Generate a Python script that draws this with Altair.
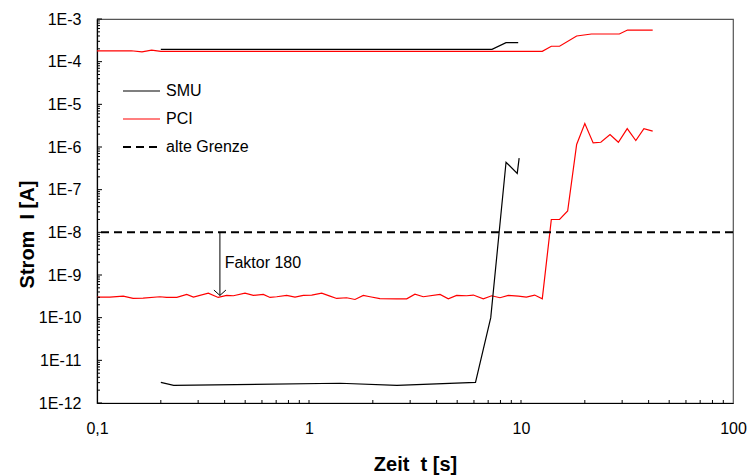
import altair as alt
import pandas as pd

# ---------------- data ----------------
smu_hi_t = [0.2, 7.3, 8.5, 9.7]
smu_hi_v = [1.95e-4, 1.95e-4, 2.8e-4, 2.8e-4]

smu_lo_t = [0.2, 0.23, 1.4, 2.6, 6.1, 7.2, 8.5, 9.6, 9.8]
smu_lo_v = [3.05e-12, 2.6e-12, 2.9e-12, 2.6e-12, 3.05e-12, 1.0e-10, 4.4e-7, 2.4e-7, 5.5e-7]

pci_hi_t = [0.1, 0.145, 0.163, 0.181, 0.2, 12.6, 13.9, 15.2, 18.3, 21.5, 29.1, 31.8, 41.8]
pci_hi_v = [1.8e-4, 1.8e-4, 1.7e-4, 1.87e-4, 1.75e-4, 1.75e-4, 2.3e-4, 2.3e-4,
            4.0e-4, 4.45e-4, 4.45e-4, 5.5e-4, 5.5e-4]

pci_lo_t = [0.1, 0.115, 0.133, 0.148, 0.165, 0.198, 0.213, 0.238, 0.265, 0.285,
            0.335, 0.373, 0.409, 0.44, 0.499, 0.546, 0.609, 0.655, 0.704, 0.785,
            0.859, 0.94, 1.03, 1.148, 1.256, 1.351, 1.506, 1.648, 1.803, 1.94,
            2.16, 2.59, 2.89, 3.16, 3.46, 4.15, 4.54, 4.97, 5.54, 5.96,
            6.64, 7.27, 7.96, 8.71, 9.72, 10.6, 11.6, 12.6, 13.9, 15.2,
            16.6, 18.3, 20.0, 21.9, 23.8, 26.3, 28.8, 31.7, 34.8, 38.0, 41.8]
pci_lo_v = [3.03e-10, 3.03e-10, 3.2e-10, 2.82e-10, 2.88e-10, 3.09e-10, 2.98e-10, 2.98e-10, 3.5e-10, 3.03e-10,
            3.76e-10, 2.98e-10, 3.32e-10, 3.26e-10, 3.76e-10, 3.32e-10, 3.5e-10, 2.98e-10, 3.09e-10, 3.32e-10,
            3.03e-10, 3.32e-10, 3.39e-10, 3.76e-10, 3.2e-10, 2.82e-10, 2.93e-10, 2.67e-10, 3.32e-10, 3.09e-10,
            2.8e-10, 2.77e-10, 2.77e-10, 3.56e-10, 3.09e-10, 3.5e-10, 2.77e-10, 3.32e-10, 3.26e-10, 3.39e-10,
            2.77e-10, 3.26e-10, 2.93e-10, 3.32e-10, 3.2e-10, 3.03e-10, 3.39e-10, 2.77e-10, 2.0e-8, 2.0e-8,
            3.16e-8, 1.15e-6, 3.56e-6, 1.25e-6, 1.29e-6, 1.96e-6, 1.29e-6, 2.7e-6, 1.42e-6, 2.7e-6, 2.35e-6]

limit_value = [1e-8]
legend_labels = ["SMU", "PCI", "alte Grenze"]

arrow_t = [0.38]
arrow_from = [1e-8]
arrow_to = [3.32e-10]
note_t = [0.4]
note_v = [1.87e-9]
note_text = ["Faktor 180"]

x_major = [0.1, 1, 10, 100]
x_minor = [m * d for d in [0.1, 1, 10] for m in range(2, 10)] + [1, 10]
y_major = [10.0 ** e for e in range(-12, -2)]
y_minor = [m * 10.0 ** e for e in range(-12, -3) for m in range(2, 10)]

# ---------------- layout ----------------
W, H = 636, 384
FONT = "Liberation Sans"

xscale = alt.Scale(type="log", domain=[0.1, 100], nice=False)
yscale = alt.Scale(type="log", domain=[1e-12, 1e-3], nice=False)

xaxis = alt.Axis(values=x_major, ticks=False, tickSize=0, grid=False, labelFlush=False,
                 labelExpr="replace(format(datum.value, '~g'), '.', ',')",
                 labelFont=FONT, labelFontSize=16, labelColor="black", labelPadding=17,
                 domainColor="black", domainWidth=1.2,
                 titleFont=FONT, titleFontSize=20, titleFontWeight="bold",
                 titleColor="black", titleX=318, titleY=61, titleBaseline="middle")
yaxis = alt.Axis(values=y_major, ticks=False, tickSize=0, grid=False, labelFlush=False,
                 labelExpr="'1E' + round(log(datum.value) / LN10)",
                 labelFont=FONT, labelFontSize=16, labelColor="black", labelPadding=16,
                 domainColor="black", domainWidth=1.2,
                 titleFont=FONT, titleFontSize=20, titleFontWeight="bold",
                 titleColor="black", titleX=-70, titleY=215, titleAngle=270,
                 titleAlign="center", titleBaseline="middle")

XT = "Zeit\u00a0\u00a0t [s]"
YT = "Strom\u00a0\u00a0I [A]"


def X(field):
    return alt.X(field, scale=xscale, axis=xaxis, title=XT)


def Y(field):
    return alt.Y(field, scale=yscale, axis=yaxis, title=YT)


def line(t, v, color, width=1.0):
    df = pd.DataFrame({"t": t, "v": v})
    return alt.Chart(df).mark_line(color=color, strokeWidth=width, clip=True).encode(
        x=X("t:Q"), y=Y("v:Q"))


layers = []
layers.append(line(pci_hi_t, pci_hi_v, "#ff0000", 1.2))
layers.append(line(smu_hi_t, smu_hi_v, "black", 1.2))
layers.append(line(pci_lo_t, pci_lo_v, "#ff0000", 1.2))
layers.append(line(smu_lo_t, smu_lo_v, "black", 1.2))

# dashed limit line
layers.append(alt.Chart(pd.DataFrame({"v": limit_value})).mark_rule(
    color="black", strokeWidth=2, strokeDash=[8, 5]).encode(y=Y("v:Q")))

# arrow annotation
adf = pd.DataFrame({"t": arrow_t, "a": arrow_from, "b": arrow_to})
layers.append(alt.Chart(adf).mark_rule(color="black", strokeWidth=1).encode(
    x=X("t:Q"), y=Y("a:Q"), y2="b:Q"))
layers.append(alt.Chart(adf).mark_point(
    shape="M-1,-0.9L0,0L1,-0.9", filled=False, stroke="black", strokeWidth=1,
    size=144, opacity=1).encode(x=X("t:Q"), y=Y("b:Q")))
layers.append(alt.Chart(pd.DataFrame({"t": note_t, "v": note_v, "s": note_text})).mark_text(
    align="left", baseline="middle", font=FONT, fontSize=16, color="black").encode(
    x=X("t:Q"), y=Y("v:Q"), text="s:N"))

# inward ticks
layers.append(alt.Chart(pd.DataFrame({"v": y_major})).mark_rule(color="black", strokeWidth=1).encode(
    y=Y("v:Q"), x=alt.value(0), x2=alt.value(5)))
layers.append(alt.Chart(pd.DataFrame({"v": y_minor})).mark_rule(color="black", strokeWidth=1).encode(
    y=Y("v:Q"), x=alt.value(0), x2=alt.value(3)))
layers.append(alt.Chart(pd.DataFrame({"t": x_minor})).mark_rule(color="black", strokeWidth=1).encode(
    x=X("t:Q"), y=alt.value(H), y2=alt.value(H - 3)))

# manual legend
leg_colors = ["black", "#ff0000", "black"]
leg_widths = [1.2, 1.2, 2]
leg_y = [72, 100, 128]
for i, lab in enumerate(legend_labels):
    kw = dict(color=leg_colors[i], strokeWidth=leg_widths[i])
    if i == 2:
        kw["strokeDash"] = [8, 5]
    layers.append(alt.Chart(pd.DataFrame({"s": [lab]})).mark_rule(**kw).encode(
        x=alt.value(26), x2=alt.value(63), y=alt.value(leg_y[i])))
    layers.append(alt.Chart(pd.DataFrame({"s": [lab]})).mark_text(
        align="left", baseline="middle", font=FONT, fontSize=16, color="black").encode(
        x=alt.value(69), y=alt.value(leg_y[i]), text="s:N"))

chart = alt.layer(*layers).properties(
    width=W, height=H,
    autosize=alt.AutoSizeParams(type="none"),
    padding={"left": 97, "top": 19, "right": 16, "bottom": 72},
    background="white",
).configure_view(stroke="#555555", strokeWidth=1.2)

chart.save("out.html", embed_options={"renderer": "svg", "actions": False})
